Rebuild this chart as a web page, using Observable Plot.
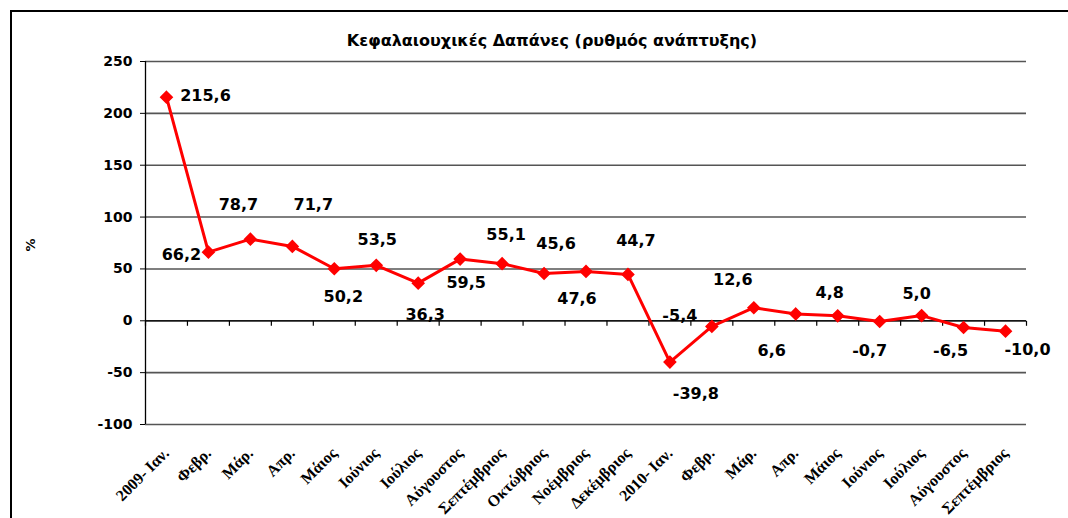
<!DOCTYPE html>
<html>
<head>
<meta charset="utf-8">
<script src="https://cdn.jsdelivr.net/npm/d3@7"></script>
<script src="https://cdn.jsdelivr.net/npm/@observablehq/plot@0.6"></script>
<style>
  body { margin: 0; background: #fff; }
  #wrap { position: relative; width: 1068px; height: 518px; overflow: hidden; background: #fff; }
  #frame { position: absolute; left: 10px; top: 10px; width: 1100px; height: 600px;
           border-top: 2px solid #000; border-left: 2px solid #000; }
  #title { position: absolute; left: 0; top: 31px; width: 1104px; text-align: center;
           font: bold 16px "DejaVu Sans", sans-serif; color: #000; }
  #ylab { position: absolute; left: 30px; top: 245px; transform: translate(-50%, -50%) rotate(-90deg);
          font: bold 13px "DejaVu Sans", sans-serif; color: #000; }
  #chart { position: absolute; left: 0; top: 0; }
  g[aria-label="x-axis tick label"] text { font: bold 16px "Liberation Serif", serif; }
  g[aria-label="y-axis tick label"] text { font: bold 14px "DejaVu Sans", sans-serif; }
</style>
</head>
<body>
<div id="wrap">
  <div id="chart"></div>
  <div id="frame"></div>
  <div id="title">Κεφαλαιουχικές Δαπάνες (ρυθμός ανάπτυξης)</div>
  <div id="ylab">%</div>
</div>
<script>
// ---- data ----
const categories = ["2009- Ιαν.","Φεβρ.","Μάρ.","Απρ.","Μάιος","Ιούνιος","Ιούλιος","Αύγουστος",
  "Σεπτέμβριος","Οκτώβριος","Νοέμβριος","Δεκέμβριος","2010- Ιαν.","Φεβρ.","Μάρ.","Απρ.",
  "Μάιος","Ιούνιος","Ιούλιος","Αύγουστος","Σεπτέμβριος"];
const values = [215.6, 66.2, 78.7, 71.7, 50.2, 53.5, 36.3, 59.5, 55.1, 45.6, 47.6, 44.7,
  -39.8, -5.4, 12.6, 6.6, 4.8, -0.7, 5.0, -6.5, -10.0];
const yTicks = [-100, -50, 0, 50, 100, 150, 200, 250];

// label nudges (pixels) for each data label, as placed in the original
const labelDx = [39, -27, -12, 21, 9, 1, 7, 6, 4, 12, -9, 8, 26, -32, -21, -24, -8, -10, -5, -13, 22];
const labelDy = [-1, 3, -34, -42, 28, -25, 32, 24, -29, -30, 27, -34, 32, -11, -28, 37, -23, 29, -22, 23, 19];

const rows = categories.map((c, i) => ({i, cat: c, v: values[i]}));
const n = categories.length;
const boundaries = d3.range(n + 1).map(i => i - 0.5);
const xDomain = [-0.5, n - 0.5];
const fmt = v => v.toFixed(1).replace(".", ",");

const tickDown = {draw(ctx) { ctx.moveTo(0, 0); ctx.lineTo(0, 5); }};

const labelMarks = rows.map((d, k) => Plot.text([d], {
  x: "i", y: "v", text: r => fmt(r.v),
  dx: labelDx[k], dy: labelDy[k],
  fontFamily: "DejaVu Sans", fontWeight: "bold", fontSize: 16, fill: "#000", textAnchor: "middle"
}));

const chart = Plot.plot({
  width: 1068,
  height: 518,
  marginLeft: 145,
  marginRight: 42,
  marginTop: 61,
  marginBottom: 94,
  style: {background: "transparent", color: "#000", overflow: "visible"},
  x: {type: "linear", domain: xDomain},
  y: {domain: [-100, 250]},
  marks: [
    Plot.gridY(yTicks, {stroke: "#555", strokeOpacity: 1, strokeWidth: 1.6}),
    Plot.ruleY([0], {stroke: "#000", strokeWidth: 1.3}),
    Plot.ruleX([xDomain[0]], {stroke: "#000", strokeWidth: 1.3}),
    Plot.dot(boundaries, {x: d => d, y: 0, symbol: tickDown, stroke: "#000", strokeWidth: 1.2, fill: "none"}),
    Plot.axisY({ticks: yTicks, tickSize: 5, tickPadding: 8, tickFormat: d => String(d),
      label: null, stroke: "#000"}),
    Plot.axisX({ticks: d3.range(n), tickFormat: i => categories[i], tickRotate: -45, tickSize: 0,
      tickPadding: 26, label: null}),
    Plot.line(rows, {x: "i", y: "v", stroke: "#ff0000", strokeWidth: 3}),
    Plot.dot(rows, {x: "i", y: "v", symbol: "diamond2", r: 5.2, fill: "#ff0000", stroke: "#ff0000"}),
    ...labelMarks
  ]
});
document.getElementById("chart").appendChild(chart);
</script>
</body>
</html>
